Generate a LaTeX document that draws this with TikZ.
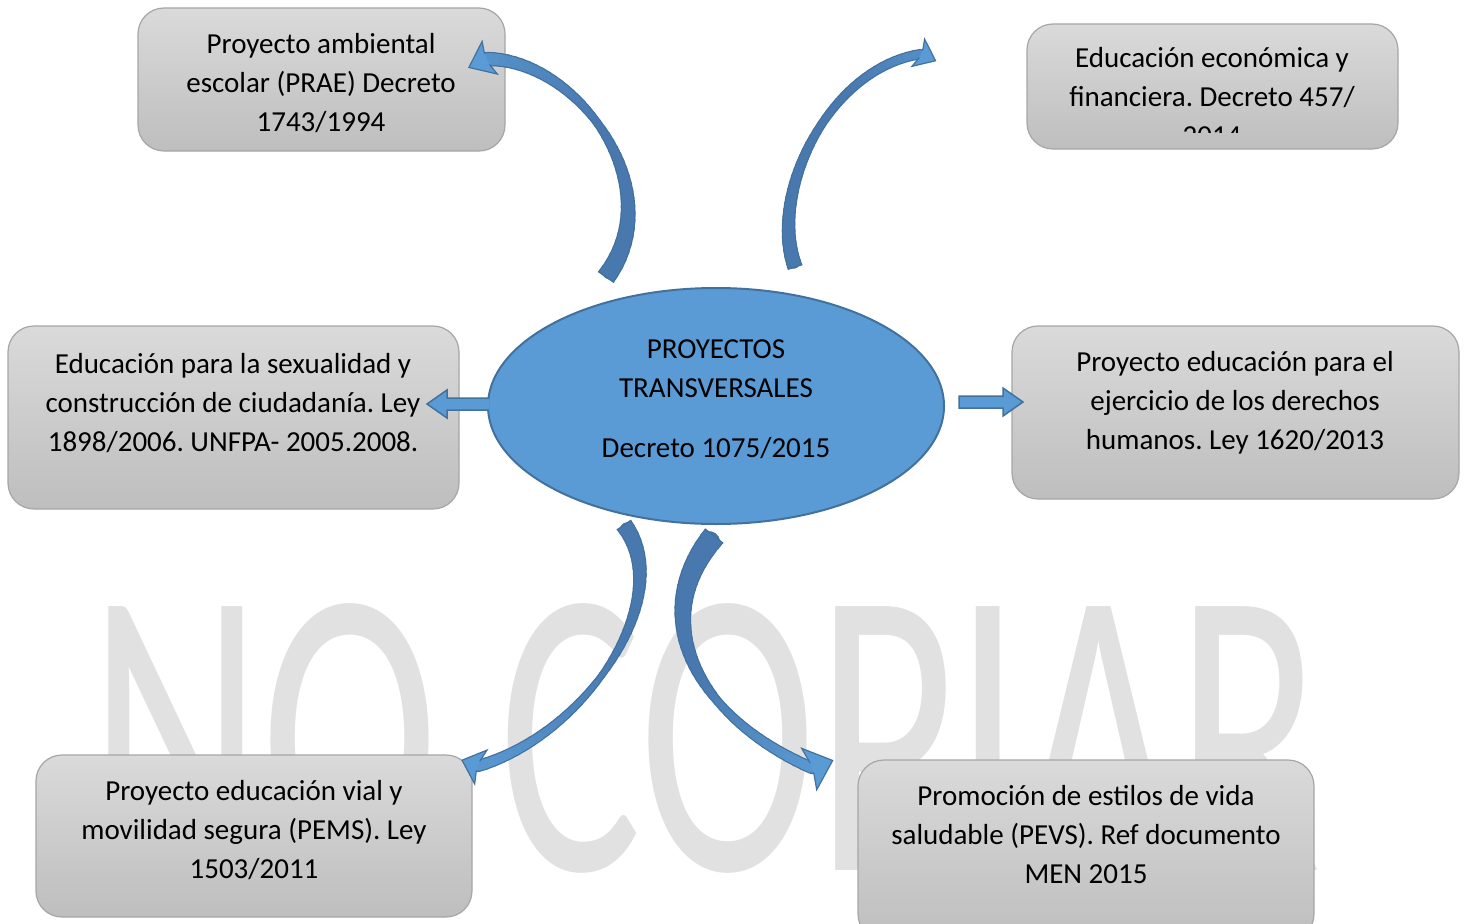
\documentclass[tikz,border=0pt]{standalone}
\usepackage{fontspec}
\setmainfont{Carlito}
\usepackage{graphicx}
\usetikzlibrary{shapes.geometric,calc}
\frenchspacing
\definecolor{ellfill}{HTML}{5B9BD5}
\definecolor{ellline}{HTML}{41719C}
\definecolor{arrowlight}{HTML}{5B9BD5}
\definecolor{arrowdark}{HTML}{4878AE}
\definecolor{arrowline}{HTML}{41719C}
\definecolor{boxtop}{HTML}{DADADA}
\definecolor{boxbot}{HTML}{BEBEBE}
\definecolor{boxline}{HTML}{A6A6A6}
\definecolor{wmark}{HTML}{E1E1E1}
\tikzset{
  gbox/.style={rectangle, rounded corners=26pt, draw=boxline, line width=1.2pt,
    top color=boxtop, bottom color=boxbot, inner sep=0pt},
  btext/.style={align=center, font=\fontsize{29}{39}\selectfont, inner sep=0pt, text=black},
  blockarrow/.style={fill=arrowlight, draw=arrowline, line width=1.5pt, line join=miter},
}
% #1 prefix, #2 base width, #3 min width, #4 t of min, #5 end width, #6 t where light starts, #7 max light %
\newcommand\CurvShaft[7]{%
  \foreach \cvI in {0,...,40}{%
    \pgfmathsetmacro\cvP{\cvI/40}%
    \path (#1a) .. controls (#1b) and (#1c) .. (#1d) coordinate[pos=\cvP] (#1-\cvI);%
  }%
  \foreach \cvI in {0,...,39}{%
    \pgfmathsetmacro\cvT{(\cvI+0.5)/40}%
    \pgfmathsetmacro\cvW{ifthenelse(\cvT<#4, #3+(#2-#3)*(1-\cvT/#4), #3+(#5-#3)*(\cvT-#4)/(1-#4))}%
    \pgfmathsetmacro\cvO{\cvW+2.4}%
    \pgfmathtruncatemacro\cvJ{\cvI+1}%
    \ifnum\cvI=0 \def\cvC{butt}\else\def\cvC{round}\fi
    \draw[draw=arrowline, line width=\cvO pt, line cap=\cvC] (#1-\cvI) -- (#1-\cvJ);%
  }%
  \foreach \cvI in {0,...,39}{%
    \pgfmathsetmacro\cvT{(\cvI+0.5)/40}%
    \pgfmathsetmacro\cvW{ifthenelse(\cvT<#4, #3+(#2-#3)*(1-\cvT/#4), #3+(#5-#3)*(\cvT-#4)/(1-#4))}%
    \pgfmathtruncatemacro\cvL{ifthenelse(\cvT<#6, 0, #7*(\cvT-#6)/(1-#6))}%
    \pgfmathtruncatemacro\cvJ{\cvI+1}%
    \ifnum\cvI=0 \def\cvC{butt}\else\def\cvC{round}\fi
    \draw[draw=arrowlight!\cvL!arrowdark, line width=\cvW pt, line cap=\cvC] (#1-\cvI) -- (#1-\cvJ);%
  }%
  \pgfmathsetmacro\cvH{#2/2+1.2}%
  \draw[arrowline, line width=1.2pt] ($(#1-0)!\cvH pt!90:(#1-1)$) -- ($(#1-0)!\cvH pt!-90:(#1-1)$);%
}
% #1 point, #2 angle, #3 half width, #4 length, #5 shaft end width
\newcommand\CurvHead[5]{%
  \begin{scope}[shift={(#1)}, rotate=#2]
    \fill[arrowlight] (0,#5/2) -- (-3,#3) -- (#4,0) -- (-3,-#3) -- (0,-#5/2) -- cycle;
    \draw[arrowline, line width=1.2pt, line join=miter] (0,#5/2) -- (-3,#3) -- (#4,0) -- (-3,-#3) -- (0,-#5/2);
  \end{scope}}

\begin{document}
\begin{tikzpicture}[x=1pt, y=-1pt]
\useasboundingbox (0,0) rectangle (1466,923);
\clip (0,0) rectangle (1466,923);
\fill[white] (0,0) rectangle (1466,923);

% watermark
\node[anchor=base west, text=wmark, inner sep=0pt] (wm) at (89,870)
  {\scalebox{1.02}[1.57]{\fontsize{262}{262}\selectfont NO COPIAR}};

% boxes
\node[gbox, minimum width=367pt, minimum height=143pt] (b1) at (321.5,79.5) {};
\node[gbox, minimum width=371pt, minimum height=125pt] (b2) at (1212.5,86.5) {};
\node[gbox, minimum width=451pt, minimum height=183pt] (b3) at (233.5,417.5) {};
\node[gbox, minimum width=447pt, minimum height=173pt] (b4) at (1235.5,412.5) {};
\node[gbox, minimum width=436pt, minimum height=162pt] (b5) at (254,836) {};
\node[gbox, minimum width=456pt, minimum height=180pt] (b6) at (1086,850) {};

\node[btext] (t1) at (321,83) {Proyecto ambiental\\escolar (PRAE) Decreto\\1743/1994};
\begin{scope}
  \clip (1027,24) rectangle (1398,133);
  \node[btext] (t2) at (1212,97) {Educación económica y\\financiera. Decreto 457/\\2014};
\end{scope}
\node[btext] (t3) at (233,403) {Educación para la sexualidad y\\construcción de ciudadanía. Ley\\1898/2006. UNFPA- 2005.2008.};
\node[btext] (t4) at (1235,403) {Proyecto educación para el\\ejercicio de los derechos\\humanos. Ley 1620/2013};
\node[btext] (t5) at (254,830) {Proyecto educación vial y\\movilidad segura (PEMS). Ley\\1503/2011};
\node[btext] (t6) at (1086,835) {Promoción de estilos de vida\\saludable (PEVS). Ref documento\\MEN 2015};

% central ellipse
\node[ellipse, draw=ellline, fill=ellfill, line width=2pt, minimum width=456pt,
  minimum height=236pt, inner sep=0pt] (ell) at (716,406) {};
\node[btext] (tc) at (716,399) {PROYECTOS\\TRANSVERSALES\\[21pt]Decreto 1075/2015};

% straight arrows
\coordinate (la) at ($(ell.west)+(2,-2)$);
\draw[blockarrow] ($(la)+(0,-6)$) -- ++(-42,0) -- ++(0,-8) -- ++(-20,14) -- ++(20,14) -- ++(0,-8) -- ++(42,0);
\coordinate (ra) at ($(ell.east)+(14,-4)$);
\draw[blockarrow] ($(ra)+(0,-6)$) -- ++(44,0) -- ++(0,-8) -- ++(20,14) -- ++(-20,14) -- ++(0,-8) -- ++(-44,0) -- cycle;

% curved arrows
\coordinate (tla) at (606,277);
\coordinate (tlb) at (672,189);
\coordinate (tlc) at (578,59);
\coordinate (tld) at (487,59);
\CurvShaft{tl}{17}{6}{0.55}{12}{0.55}{70}
\CurvHead{tld}{205}{18}{20}{12}

\coordinate (tra) at (795,267);
\coordinate (trb) at (767.8,191.8);
\coordinate (trc) at (830,67.5);
\coordinate (trd) at (921,54);
\CurvShaft{tr}{13}{6.5}{0.55}{8}{0.7}{60}
\CurvHead{trd}{-25}{15}{16}{8}

\coordinate (bla) at (624,525);
\coordinate (blb) at (678,597);
\coordinate (blc) at (585.6,735.2);
\coordinate (bld) at (478,766);
\CurvShaft{bl}{15}{4.5}{0.55}{10}{0.45}{90}
\CurvHead{bld}{160}{18}{17}{10}

\coordinate (bra) at (714,536);
\coordinate (brb) at (643.6,620.7);
\coordinate (brc) at (699.6,719.4);
\coordinate (brd) at (812,768);
\CurvShaft{br}{21}{6.5}{0.65}{10}{0.55}{90}
\CurvHead{brd}{20}{22}{22}{10}
\end{tikzpicture}
\end{document}
